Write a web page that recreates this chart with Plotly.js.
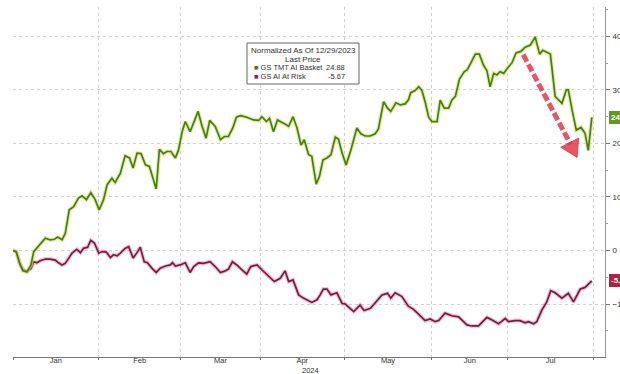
<!DOCTYPE html>
<html>
<head>
<meta charset="utf-8">
<script src="https://cdn.plot.ly/plotly-3.0.1.min.js"></script>
<style>html,body{margin:0;padding:0;background:#fff;}#chart{width:620px;height:374px;}</style>
</head>
<body>
<div id="chart"></div>
<script>
// ---- data (x = trading-day index since 12/29/2023, values normalized to 0) ----
const basketDays = [0,0.8,1.7,2.5,3.5,4.5,5.2,6.2,7.3,8.1,9.3,10.4,11.2,12.3,13.1,14.1,15.2,16.4,17.3,18.4,19.5,20.6,21.6,22.7,23.6,24.8,25.6,26.9,28.1,29.2,30.1,31.1,32.1,33.2,34.2,35.9,36.7,37.7,38.6,39.6,40.7,41.5,42.4,43.2,44.4,45.7,46.4,47.4,48.4,49.3,50.7,52.0,53.0,54.0,55.1,56.0,57.0,58.6,60.3,61.6,62.4,63.5,64.3,65.3,66.3,67.8,69.1,70.2,71.2,72.2,73.0,74.1,74.9,76.0,76.8,77.7,78.7,79.7,80.8,81.6,82.5,83.5,84.7,86.2,87.2,88.3,89.5,90.8,91.6,92.9,93.9,94.7,96.0,97.1,98.3,99.1,99.7,100.8,101.7,102.5,103.3,104.2,105.0,106.3,107.1,108.1,109.2,110.0,110.9,111.9,113.1,113.9,115.0,115.9,116.9,117.9,118.8,119.6,120.5,121.3,122.1,123.0,123.8,125.1,126.1,127.3,128.4,129.7,130.9,132.0,132.8,133.8,134.7,135.9,136.7,137.6,138.7,139.2,140.3,141.2,142.4,143.4,144.2,145.1];
const basketValues = [0,-0.2,-2.5,-3.8,-4.0,-2.7,-0.2,0.7,1.7,2.3,2.0,2.1,2.5,2.0,3.2,7.6,8.2,9.8,10.2,9.5,10.8,9.5,7.6,9.5,12.3,13.5,12.7,14.4,17.7,17.3,15.4,18.2,18.1,16.0,15.7,11.5,18.9,18.1,18.5,18.5,17.3,18.8,22.2,24.1,22.2,24.7,26.0,23.2,21.0,24.3,23.2,20.7,21.3,21.3,22.9,24.9,25.2,24.9,24.4,24.3,25.0,24.1,24.7,22.2,24.4,23.8,23.2,25.0,22.9,19.7,20.7,17.9,17.6,12.4,13.8,16.9,17.3,17.9,21.2,20.8,18.2,16.0,18.8,22.9,21.8,21.4,21.4,21.8,22.7,27.8,26.6,26.0,27.6,27.2,27.4,28.1,29.5,29.9,30.6,29.9,27.8,24.9,24.1,24.1,28.1,26.6,26.6,28.1,28.8,32.0,33.4,33.8,35.3,36.7,36.7,34.7,33.6,30.6,33.1,32.8,33.4,33.1,33.9,35.1,36.9,37.2,38.0,38.4,39.9,36.7,37.4,37.0,36.7,28.8,28.1,27.5,30.0,30.0,25.7,22.5,23.0,21.9,18.7,24.88];

const riskDays = [0,0.8,1.7,2.5,3.5,4.5,5.2,6.0,6.8,8.1,9.3,10.6,11.4,12.3,13.1,13.9,14.8,16.0,16.9,17.7,18.7,19.5,20.4,21.5,22.3,23.4,24.4,25.2,26.1,26.9,28.1,29.0,30.1,31.1,31.9,32.9,33.7,34.8,35.9,36.9,38.2,39.4,40.0,40.7,41.9,43.2,44.4,45.3,46.5,47.8,49.4,50.7,52.0,53.2,54.0,55.0,56.1,57.4,58.6,59.6,61.2,62.4,63.7,65.5,67.0,68.2,69.1,70.2,71.6,72.8,74.9,76.2,77.0,77.8,78.7,79.7,81.2,82.5,83.3,85.4,87.0,88.0,89.6,90.8,92.5,93.9,94.7,95.8,97.5,99.1,100.4,102.1,103.3,104.6,105.8,106.7,108.3,110.0,111.7,113.8,115.0,116.7,118.8,120.1,121.7,123.4,124.2,125.9,127.1,128.4,129.2,130.5,131.3,132.6,133.8,134.8,135.9,137.6,139.2,140.5,142.2,143.4,145.1];
const riskValues = [0,-0.2,-2.3,-3.6,-3.9,-3.4,-2.1,-2.3,-1.9,-1.6,-1.6,-1.8,-2.3,-2.7,-2.4,-1.6,-0.5,0.2,-0.4,0.4,0.6,1.9,1.4,-0.5,-0.2,-0.3,-1.3,-0.8,-1.0,-0.5,0.4,0.7,-1.4,-0.4,0.6,-2.1,-2.3,-3.3,-4.1,-3.3,-2.9,-2.7,-2.3,-2.9,-2.7,-2.3,-4.1,-3.0,-2.3,-2.4,-2.1,-3.0,-4.1,-3.8,-3.5,-2.1,-2.7,-3.6,-4.4,-3.0,-2.7,-3.6,-4.6,-5.8,-5.2,-3.8,-5.8,-5.5,-8.3,-8.9,-9.7,-9.2,-8.3,-7.2,-7.2,-8.3,-7.9,-9.9,-10.0,-11.4,-10.2,-11.2,-10.8,-9.7,-8.3,-8.0,-8.9,-7.9,-8.6,-10.4,-11.0,-12.2,-13.1,-12.8,-13.3,-13.1,-11.7,-12.2,-12.4,-13.9,-14.1,-14.1,-12.5,-13.0,-13.7,-12.7,-13.3,-13.1,-13.1,-13.5,-13.3,-13.7,-13.3,-11.1,-9.6,-7.5,-7.9,-8.9,-8.0,-9.6,-7.2,-6.9,-5.67];

const monthStarts = [0, 21.5, 42, 62, 83, 105, 124, 145.5];
const monthLabels = ['Jan','Feb','Mar','Apr','May','Jun','Jul'];
const yTicks = [-10, 0, 10, 20, 30, 40];
const seriesNames = ['GS TMT AI Basket', 'GS AI At Risk'];
const legendTitle = ['Normalized As Of 12/29/2023', 'Last Price'];
const yearLabel = '2024';

// ---- build ----
const GREEN = '#4a7c16', RED = '#7a1c3c';
const monthMids = monthLabels.map((m, i) => (monthStarts[i] + monthStarts[i + 1]) / 2);
const lastBasket = basketValues[basketValues.length - 1];
const lastRisk = riskValues[riskValues.length - 1];

const traces = [
  {x: riskDays, y: riskValues, mode: 'lines', line: {color: 'rgba(230,120,150,0.45)', width: 4}, hoverinfo: 'skip', showlegend: false},
  {x: riskDays, y: riskValues, mode: 'lines', line: {color: RED, width: 1.7}, name: seriesNames[1], showlegend: false},
  {x: basketDays, y: basketValues, mode: 'lines', line: {color: 'rgba(205,232,110,0.65)', width: 4}, hoverinfo: 'skip', showlegend: false},
  {x: basketDays, y: basketValues, mode: 'lines', line: {color: GREEN, width: 1.7}, name: seriesNames[0], showlegend: false}
];

const font = {family: 'Liberation Sans, Arial, sans-serif', size: 8, color: '#333'};
const smallFont = {family: 'Liberation Sans, Arial, sans-serif', size: 7.5, color: '#333'};

// plot area px: x 13..605, y 7..357
const px2paperX = p => (p - 13) / 592;
const px2paperY = p => (357 - p) / 350;
const arrowColor = 'rgba(226,58,72,0.85)';

const annotations = [
  {xref: 'paper', yref: 'paper', x: px2paperX(303), y: px2paperY(50), text: legendTitle[0], showarrow: false, font: font, xanchor: 'center', yanchor: 'middle'},
  {xref: 'paper', yref: 'paper', x: px2paperX(303), y: px2paperY(59.5), text: legendTitle[1], showarrow: false, font: font, xanchor: 'center', yanchor: 'middle'},
  {xref: 'paper', yref: 'paper', x: px2paperX(252), y: px2paperY(67.5), text: '<span style="color:' + GREEN + '">■</span> ' + seriesNames[0], showarrow: false, font: smallFont, xanchor: 'left', yanchor: 'middle'},
  {xref: 'paper', yref: 'paper', x: px2paperX(252), y: px2paperY(77), text: '<span style="color:#a01c44">■</span> ' + seriesNames[1], showarrow: false, font: smallFont, xanchor: 'left', yanchor: 'middle'},
  {xref: 'paper', yref: 'paper', x: px2paperX(347), y: px2paperY(67.5), text: lastBasket.toFixed(2), showarrow: false, font: smallFont, xanchor: 'right', yanchor: 'middle'},
  {xref: 'paper', yref: 'paper', x: px2paperX(347), y: px2paperY(77), text: lastRisk.toFixed(2), showarrow: false, font: smallFont, xanchor: 'right', yanchor: 'middle'},
  {xref: 'paper', yref: 'paper', x: px2paperX(310), y: px2paperY(370), text: yearLabel, showarrow: false, font: smallFont, xanchor: 'center', yanchor: 'middle'},
  {xref: 'paper', yref: 'y', x: px2paperX(609), y: lastBasket, text: '<b>' + lastBasket.toFixed(2) + '</b>', showarrow: false, xanchor: 'left', yanchor: 'middle', bgcolor: '#5f9a1e', bordercolor: '#5f9a1e', borderpad: 1, font: {family: font.family, size: 8, color: '#fff'}},
  {xref: 'paper', yref: 'y', x: px2paperX(609), y: lastRisk, text: '<b>' + lastRisk.toFixed(2) + '</b>', showarrow: false, xanchor: 'left', yanchor: 'middle', bgcolor: '#b4203f', bordercolor: '#b4203f', borderpad: 1, font: {family: font.family, size: 8, color: '#fff'}}
];

const shapes = [
  {type: 'rect', xref: 'paper', yref: 'paper', x0: px2paperX(247), x1: px2paperX(359), y0: px2paperY(84), y1: px2paperY(43), line: {color: '#666', width: 1}, fillcolor: 'rgba(255,255,255,0.95)', layer: 'above'},
  // red dashed arrow (decoration)
  {type: 'line', xref: 'x', yref: 'y', x0: 127.9, y0: 36.6, x1: 139.8, y1: 19.8, line: {color: arrowColor, width: 5, dash: '8px,3px'}},
  {type: 'path', xref: 'x', yref: 'y', path: 'M 141.8 21.0 L 141.4 17.4 L 137.3 19.3 Z', fillcolor: arrowColor, line: {color: arrowColor, width: 1}}
];

const layout = {
  width: 620, height: 374,
  margin: {l: 13, r: 15, t: 7, b: 17, pad: 0},
  paper_bgcolor: '#fff', plot_bgcolor: '#fff',
  showlegend: false,
  font: font,
  xaxis: {
    range: [0, 148.4], tickmode: 'array', tickvals: monthMids, ticktext: monthLabels,
    ticks: '', showgrid: false, zeroline: false,
    showline: true, linecolor: '#777', linewidth: 1,
    tickfont: smallFont, ticklabelstandoff: -4,
    minor: {tickmode: 'array', tickvals: monthStarts, showgrid: true, gridcolor: '#d2d2d2', griddash: 'dot', gridwidth: 1, ticks: 'outside', ticklen: 2, tickcolor: '#777'}
  },
  yaxis: {
    range: [-19.9, 45.5], side: 'right', tickmode: 'array', tickvals: yTicks,
    ticks: 'outside', ticklen: 4, tickcolor: '#777',
    showgrid: true, gridcolor: '#d2d2d2', griddash: 'dot', gridwidth: 1, zeroline: false,
    showline: true, linecolor: '#999', linewidth: 1,
    tickfont: font, ticklabelstandoff: 1,
    minor: {dtick: 5, ticks: 'outside', ticklen: 2, tickcolor: '#999', showgrid: false}
  },
  annotations: annotations,
  shapes: shapes
};

Plotly.newPlot('chart', traces, layout, {displayModeBar: false, staticPlot: true});
</script>
</body>
</html>
